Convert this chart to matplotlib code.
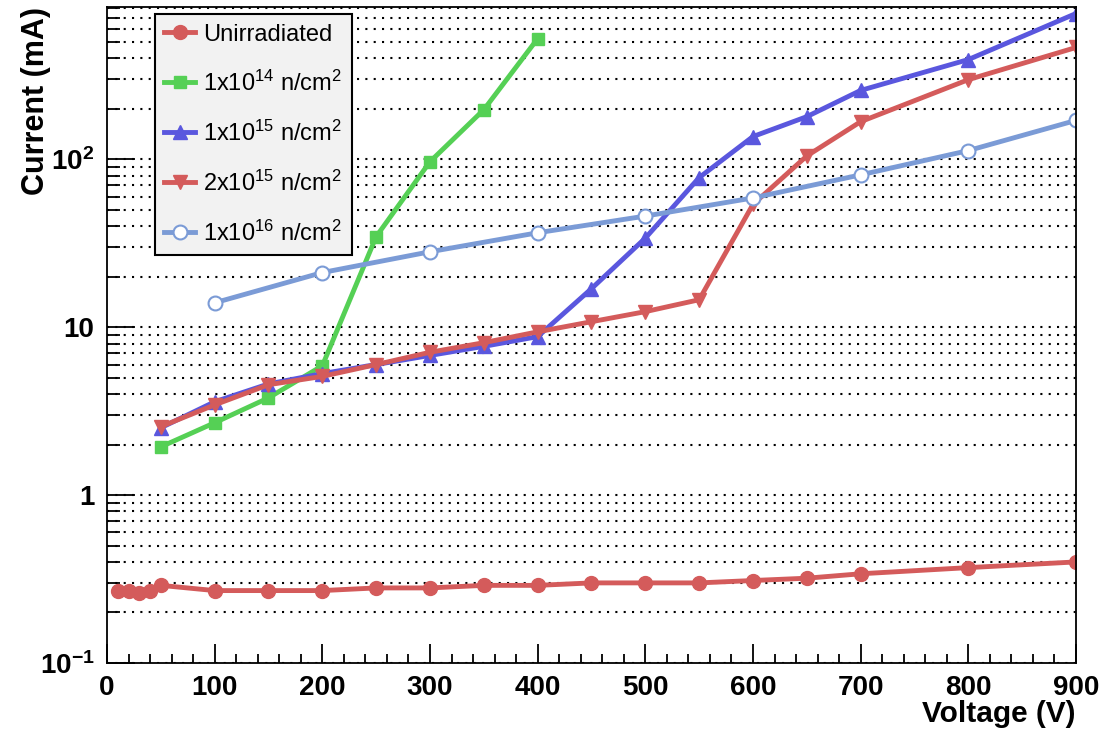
import matplotlib
matplotlib.use("Agg")
import matplotlib.pyplot as plt
from matplotlib.ticker import FixedLocator, FuncFormatter, LogLocator, MultipleLocator, NullFormatter

plt.rcParams['font.family'] = ['Liberation Sans', 'DejaVu Sans']
plt.rcParams['mathtext.fontset'] = 'custom'
plt.rcParams['mathtext.rm'] = 'Liberation Sans'
plt.rcParams['mathtext.bf'] = 'Liberation Sans:bold'
plt.rcParams['mathtext.it'] = 'Liberation Sans:italic'

# data
v_unirr = [10, 20, 30, 40, 50, 100, 150, 200, 250, 300, 350, 400, 450, 500, 550, 600, 650, 700, 800, 900]
i_unirr = [0.27, 0.27, 0.26, 0.27, 0.29, 0.27, 0.27, 0.27, 0.28, 0.28, 0.29, 0.29, 0.30, 0.30, 0.30, 0.31, 0.32, 0.34, 0.37, 0.40]

v_1e14 = [50, 100, 150, 200, 250, 300, 350, 400]
i_1e14 = [1.94, 2.7, 3.8, 5.9, 34.7, 97, 198, 525]

v_1e15 = [50, 100, 150, 200, 250, 300, 350, 400, 450, 500, 550, 600, 650, 700, 800, 900]
i_1e15 = [2.52, 3.6, 4.6, 5.3, 6.0, 6.8, 7.7, 8.8, 17, 34, 78, 137, 180, 258, 394, 741]

v_2e15 = [50, 100, 150, 200, 250, 300, 350, 400, 450, 500, 550, 600, 650, 700, 800, 900]
i_2e15 = [2.56, 3.45, 4.55, 5.1, 6.0, 7.1, 8.1, 9.4, 10.8, 12.4, 14.6, 54, 105, 168, 299, 465]

v_1e16 = [100, 200, 300, 400, 500, 600, 700, 800, 900]
i_1e16 = [14.0, 21.2, 28.2, 36.6, 46, 59, 81, 113, 171]

labels = ['Unirradiated',
          r'1x10$^{14}$ n/cm$^{2}$',
          r'1x10$^{15}$ n/cm$^{2}$',
          r'2x10$^{15}$ n/cm$^{2}$',
          r'1x10$^{16}$ n/cm$^{2}$']

red = '#d45b5b'
green = '#55d055'
blue = '#5a57de'
lblue = '#7b9bd6'

fig = plt.figure(figsize=(11.03, 7.32), dpi=100)
ax = fig.add_axes([0.097, 0.0943, 0.9755 - 0.097, 0.9904 - 0.0943])

lw = 3.5
ax.plot(v_unirr, i_unirr, '-o', color=red, lw=lw, ms=10, label=labels[0])
ax.plot(v_1e14, i_1e14, '-s', color=green, lw=lw, ms=9, label=labels[1])
ax.plot(v_1e15, i_1e15, '-^', color=blue, lw=lw, ms=10, label=labels[2])
ax.plot(v_2e15, i_2e15, '-v', color=red, lw=lw, ms=10, label=labels[3])
ax.plot(v_1e16, i_1e16, '-o', color=lblue, lw=lw, ms=10, mfc='white', mec=lblue, mew=1.5, label=labels[4])

ax.set_yscale('log')
ax.set_xlim(0, 900)
ax.set_ylim(0.1, 810)

ax.xaxis.set_major_locator(MultipleLocator(100))
ax.xaxis.set_minor_locator(MultipleLocator(20))
ax.yaxis.set_major_locator(FixedLocator([0.1, 1, 10, 100]))
ax.yaxis.set_minor_locator(LogLocator(base=10, subs=range(2, 10)))
ax.yaxis.set_minor_formatter(NullFormatter())

ylab = {0.1: r'$\mathbf{10^{-1}}$', 1: '1', 10: '10', 100: r'$\mathbf{10^{2}}$'}
ax.yaxis.set_major_formatter(FuncFormatter(lambda y, p: ylab.get(round(y, 3), '')))

ax.tick_params(axis='x', which='major', direction='in', length=14, width=1.3, pad=9, labelsize=20)
ax.tick_params(axis='x', which='minor', direction='in', length=6.5, width=1.3)
ax.tick_params(axis='y', which='major', direction='in', length=20, width=1.3, pad=9, labelsize=20)
ax.tick_params(axis='y', which='minor', direction='in', length=9.5, width=1.3)
for t in ax.get_xticklabels() + ax.get_yticklabels():
    t.set_fontweight('bold')

ax.grid(True, which='both', axis='y', color='black', lw=1.5, linestyle=(0, (1, 3)))
ax.set_axisbelow(True)
for s in ax.spines.values():
    s.set_linewidth(1.3)

ax.set_xlabel('Voltage (V)', fontsize=21.5, fontweight='bold', loc='right', labelpad=-1)
ax.set_ylabel('Current (mA)', fontsize=22, fontweight='bold', loc='top', labelpad=-8)

leg = ax.legend(loc='upper left', bbox_to_anchor=(0.0495, 0.989), fontsize=17,
                fancybox=False, framealpha=1, facecolor='#f2f2f2', edgecolor='black',
                handlelength=1.3, handletextpad=0.35, labelspacing=1.05,
                borderpad=0.4, borderaxespad=0)
leg.get_frame().set_linewidth(1.5)

fig.savefig('out.png', dpi=100)
